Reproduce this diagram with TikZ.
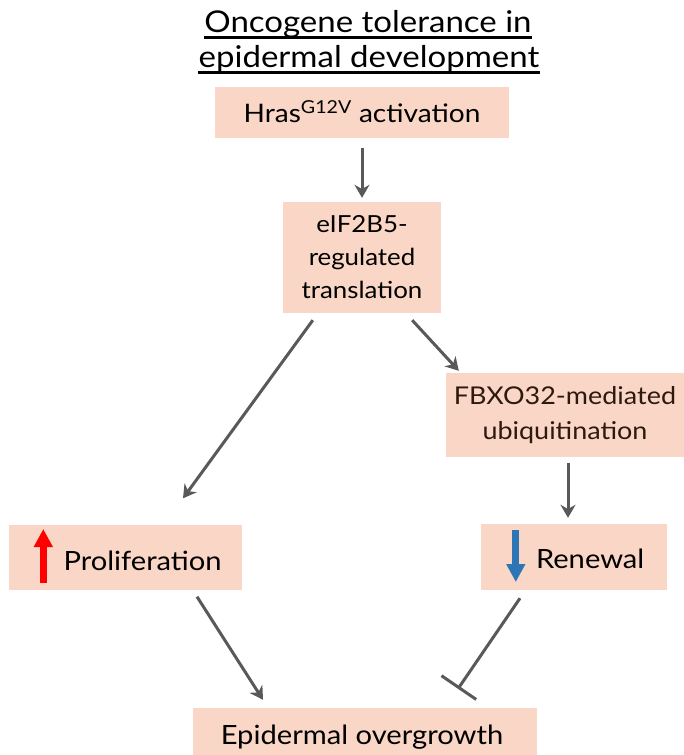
\documentclass[tikz,border=0pt]{standalone}
\usepackage{fontspec}
\setmainfont{Lato}[FakeStretch=1.1]
\usetikzlibrary{arrows.meta,calc}
\definecolor{boxfill}{RGB}{249,214,197}
\definecolor{arrowgray}{RGB}{89,89,89}
\definecolor{upred}{RGB}{255,0,0}
\definecolor{downblue}{RGB}{46,117,182}
\begin{document}
\begin{tikzpicture}[x=1pt,y=-1pt,
  box/.style={fill=boxfill, inner sep=0pt, align=center, text=black},
  conn/.style={draw=arrowgray, line width=3pt, -{Stealth[length=13pt,width=15pt]}},
  inhib/.style={draw=arrowgray, line width=3pt, -{Bar[width=42pt,line width=3pt]}},
  title/.style={font=\fontsize{30}{32}\selectfont, anchor=base, inner sep=0pt},
  uline/.style={draw=black, line width=2.2pt},
  bigtxt/.style={font=\fontsize{26.5}{30}\selectfont, anchor=base, inner sep=0pt},
  signarrow/.style={line width=7pt, -{Triangle[length=18pt,width=18pt]}}
]
\useasboundingbox (0,0) rectangle (684,755);
\fill[white] (0,0) rectangle (684,755);

% title
\node[title] (t1) at (368,32) {Oncogene tolerance in};
\node[title] (t2) at (369,67) {epidermal development};
\draw[uline] ($(t1.base west)+(0,5.5)$) -- ($(t1.base east)+(0,5.5)$);
\draw[uline] ($(t2.base west)+(0,5.5)$) -- ($(t2.base east)+(0,5.5)$);

% boxes
\node[box, minimum width=294pt, minimum height=51pt, font=\fontsize{25.5}{30}\selectfont] (hras) at (362,112) {Hras\textsuperscript{G12V} activation};
\node[box, minimum width=158pt, minimum height=111pt, font=\fontsize{23.5}{33}\selectfont] (eif) at (362,257.5) {eIF2B5-\\regulated\\translation};
\node[box, minimum width=238pt, minimum height=84pt, font=\fontsize{24.5}{35}\selectfont, text={rgb,255:red,45;green,25;blue,15}] (fbxo) at (565,415) {FBXO32-mediated\\ubiquitination};
\node[box, minimum width=233pt, minimum height=65pt] (prolif) at (125,557) {};
\node[box, minimum width=186pt, minimum height=66pt] (renew) at (574,557) {};
\node[box, minimum width=344pt, minimum height=48pt] (epi) at (365,732) {};

\node[bigtxt, anchor=base west] (proliftext) at ($(prolif.west)+(55,13)$) {Proliferation};
\node[bigtxt, anchor=base west] (renewtext) at ($(renew.west)+(55,11)$) {Renewal};
\node[bigtxt] (epitext) at ($(epi.center)+(-3,12)$) {Epidermal overgrowth};

% up / down marks
\draw[signarrow, draw=upred, fill=upred] ($(prolif.west)+(35,26)$) -- ($(prolif.west)+(35,-28)$);
\draw[signarrow, draw=downblue, fill=downblue] ($(renew.west)+(35,-27)$) -- ($(renew.west)+(35,25)$);

% connectors
\draw[conn] ($(hras.south)+(0,10)$) -- ($(eif.north)+(0,-4)$);
\draw[conn] ($(eif.south west)+(30,7)$) -- ($(prolif.north)+(58,-26)$);
\draw[conn] ($(eif.south east)+(-29,7)$) -- ($(fbxo.north west)+(13,-2)$);
\draw[conn] ($(fbxo.south)+(3,6)$) -- ($(renew.north)+(-6,-6)$);
\draw[conn] ($(prolif.south)+(72,7)$) -- ($(epi.north)+(-102,-8)$);
\draw[inhib] ($(renew.south)+(-54,8)$) -- ($(epi.north)+(93,-19)$);
\end{tikzpicture}
\end{document}
